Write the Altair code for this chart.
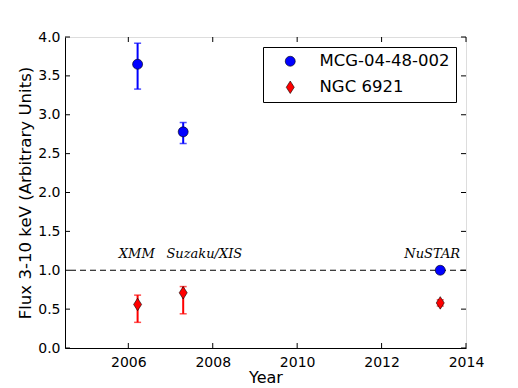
import altair as alt
import pandas as pd

# ---------------- data ----------------
series_names = ["MCG-04-48-002", "NGC 6921"]
years = [2006.22, 2007.30, 2013.39]
mcg_flux = [3.65, 2.78, 1.00]
mcg_lo = [3.33, 2.63, 0.96]
mcg_hi = [3.92, 2.90, 1.04]
ngc_flux = [0.56, 0.71, 0.58]
ngc_lo = [0.33, 0.44, 0.54]
ngc_hi = [0.68, 0.79, 0.62]
series_colors = ["#0000ff", "#ff0000"]
ann_text = ["XMM", "Suzaku/XIS", "NuSTAR"]
ann_x = [2006.2, 2007.8, 2013.2]
ann_y = [1.21, 1.21, 1.21]
ref_level = [1.0]
x_ticks = [2006, 2008, 2010, 2012, 2014]
y_ticks = [0.0, 0.5, 1.0, 1.5, 2.0, 2.5, 3.0, 3.5, 4.0]
x_domain = [2004.5, 2014]
y_domain = [0, 4]

W, H = 401, 311
FONT = "DejaVu Sans"

rows = []
for i, yr in enumerate(years):
    rows.append(dict(year=yr, flux=mcg_flux[i], lo=mcg_lo[i], hi=mcg_hi[i], series=series_names[0]))
for i, yr in enumerate(years):
    rows.append(dict(year=yr, flux=ngc_flux[i], lo=ngc_lo[i], hi=ngc_hi[i], series=series_names[1]))
df = pd.DataFrame(rows)

xs = alt.Scale(domain=x_domain, nice=False, zero=False)
ys = alt.Scale(domain=y_domain, nice=False, zero=False)

x_axis = alt.Axis(values=x_ticks, format="d", title="Year", grid=False, ticks=False,
                  labelFontSize=14, titleFontSize=16, labelPadding=7, titlePadding=0,
                  labelFlush=False, labelOverlap=False, domainColor="black", labelColor="black",
                  titleColor="black", labelFont=FONT, titleFont=FONT, titleFontWeight="normal")
y_axis = alt.Axis(values=y_ticks, format=".1f", title="Flux 3-10 keV (Arbitrary Units)",
                  grid=False, ticks=False, labelFontSize=14, titleFontSize=16.6,
                  labelPadding=5, titlePadding=4, labelFlush=False, labelOverlap=False,
                  domainColor="black", labelColor="black", titleColor="black",
                  labelFont=FONT, titleFont=FONT, titleFontWeight="normal")


def X(field):
    return alt.X(field, scale=xs, axis=x_axis)


def Y(field):
    return alt.Y(field, scale=ys, axis=y_axis)


base = alt.Chart(df)

# dashed reference line
ref = alt.Chart(pd.DataFrame({"v": ref_level})).mark_rule(
    color="black", strokeDash=[6, 4], strokeWidth=1.2
).encode(y=Y("v:Q"))

layers = [ref]
for name, col in zip(series_names, series_colors):
    sub = base.transform_filter(alt.datum.series == name)
    bar = sub.mark_rule(color=col, strokeWidth=2).encode(
        x=X("year:Q"), y=Y("lo:Q"), y2="hi:Q")
    cap_lo = sub.mark_tick(color=col, orient="horizontal", size=7, thickness=1.5).encode(
        x=X("year:Q"), y=Y("lo:Q"))
    cap_hi = sub.mark_tick(color=col, orient="horizontal", size=7, thickness=1.5).encode(
        x=X("year:Q"), y=Y("hi:Q"))
    layers += [bar, cap_lo, cap_hi]

diamond = "M0,-1.25L0.8,0L0,1.25L-0.8,0Z"
points = base.mark_point(filled=True, size=100, stroke="black", strokeWidth=0.6, opacity=1).encode(
    x=X("year:Q"),
    y=Y("flux:Q"),
    color=alt.Color("series:N", scale=alt.Scale(domain=series_names, range=series_colors),
                    legend=alt.Legend(title=None, orient="none", legendX=198, legendY=10,
                                      strokeColor="black", fillColor="white", padding=6,
                                      symbolOffset=13, labelOffset=21, symbolSize=100,
                                      symbolStrokeColor="black", symbolStrokeWidth=0.6,
                                      labelFontSize=16.5, labelFont=FONT, labelColor="black",
                                      rowPadding=9, labelLimit=300, cornerRadius=0,
                                      symbolOpacity=1)),
    shape=alt.Shape("series:N", scale=alt.Scale(domain=series_names, range=["circle", diamond])),
)
layers.append(points)

ann = alt.Chart(pd.DataFrame({"t": ann_text, "x": ann_x, "y": ann_y})).mark_text(
    font="DejaVu Serif", fontStyle="italic", fontSize=13, color="black", baseline="middle"
).encode(x=X("x:Q"), y=Y("y:Q"), text="t:N")
layers.append(ann)

# inward ticks on all four sides
tx = pd.DataFrame({"v": x_ticks})
ty = pd.DataFrame({"v": y_ticks})
tick_bottom = alt.Chart(tx).mark_rule(color="black", strokeWidth=1).encode(
    x=X("v:Q"), y=alt.value(H), y2=alt.value(H - 5))
tick_top = alt.Chart(tx).mark_rule(color="black", strokeWidth=1).encode(
    x=X("v:Q"), y=alt.value(0), y2=alt.value(5))
tick_left = alt.Chart(ty).mark_rule(color="black", strokeWidth=1).encode(
    y=Y("v:Q"), x=alt.value(0), x2=alt.value(5))
tick_right = alt.Chart(ty).mark_rule(color="black", strokeWidth=1).encode(
    y=Y("v:Q"), x=alt.value(W), x2=alt.value(W - 5))
layers += [tick_bottom, tick_top, tick_left, tick_right]

chart = alt.layer(*layers).properties(
    width=W, height=H,
    autosize=alt.AutoSizeParams(type="none"),
    padding={"left": 57, "top": 29, "right": 44, "bottom": 40},
).configure_view(stroke="black", strokeWidth=1).configure(background="white")

chart.save("out.html", embed_options={"renderer": "svg", "actions": False})
